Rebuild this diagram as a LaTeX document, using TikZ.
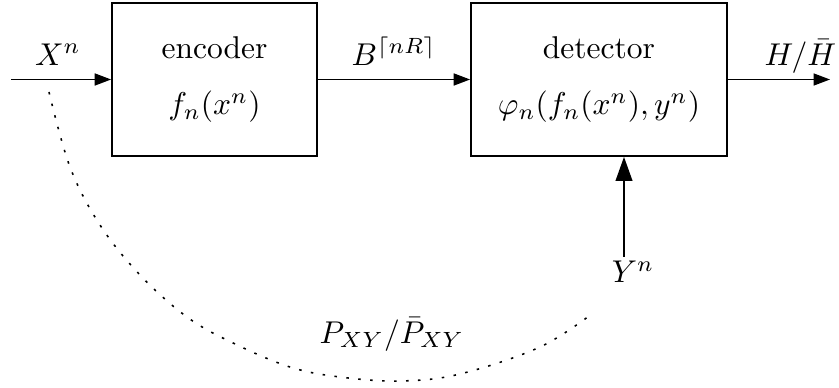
\documentclass[tikz,border=0pt]{standalone}
\usetikzlibrary{arrows.meta}
\begin{document}
\begin{tikzpicture}[x=0.3175pt,y=-0.3175pt,
  >={Triangle[length=5.2pt,width=3.8pt]},
  line width=0.5pt,
  blk/.style={draw, line width=0.55pt, inner sep=0pt, align=center, minimum height=48.6pt},
  lbl/.style={anchor=base, yshift=4.6pt},
  bigtip/.style={-{Triangle[length=7.6pt,width=5.3pt]}},
  dots/.style={line width=0.5pt, dash pattern=on 0.8pt off 3pt}]
\useasboundingbox (0,0) rectangle (839,388);
\node[blk, minimum width=65.1pt] (enc) at (214.5,79.5) {encoder\\[5.8pt]$f_n(x^n)$};
\node[blk, minimum width=81.3pt] (det) at (599,79.5) {detector\\[5.8pt]$\varphi_n(f_n(x^n),y^n)$};
\coordinate (in) at (11,79.5);
\coordinate (out) at (830,79.5);
\coordinate (ys) at (624,257);
\node[anchor=base] (Y) at (633,283) {$Y^n$};
\node[anchor=base] (P) at (392,343) {$P_{XY}/\bar P_{XY}$};
\draw[->] (in) -- node[lbl, xshift=-1pt] (X) {$X^n$} (enc.west);
\draw[->] (enc.east) -- node[lbl] (B) {$B^{\lceil nR\rceil}$} (det.west);
\draw[->] (det.east) -- node[lbl, pos=0.71] (H) {$H/\bar H$} (out);
\draw[bigtip] (ys) -- (det.south -| ys);
\draw[dots] plot[smooth, tension=0.6] coordinates {(49,92) (70,167) (100,225) (140,275) (187,317) (233,343) (290,367) (340,377) (400,381) (460,374) (540,347) (593,313)};
\end{tikzpicture}
\end{document}
